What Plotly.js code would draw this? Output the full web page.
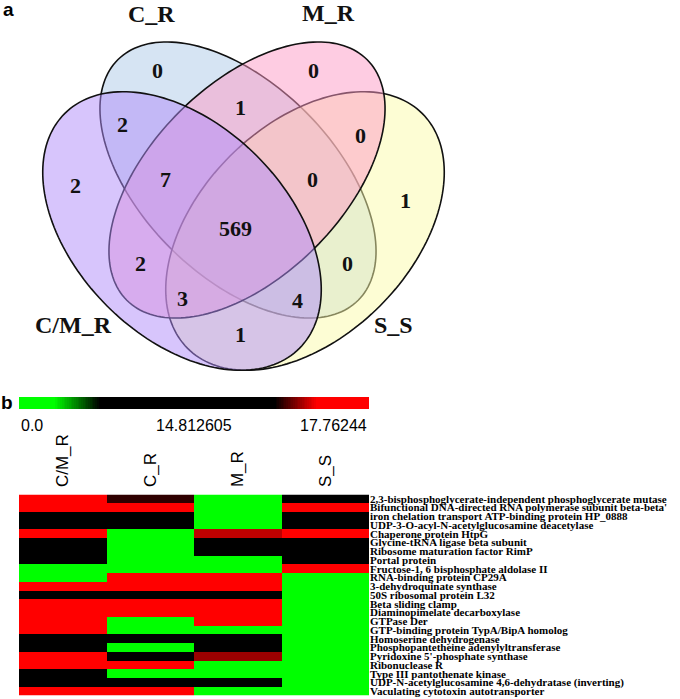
<!DOCTYPE html>
<html>
<head>
<meta charset="utf-8">
<script src="https://cdn.plot.ly/plotly-3.0.1.min.js"></script>
<style>
  html, body { margin: 0; padding: 0; background: #fff; }
  #chart { width: 680px; height: 699px; }
</style>
</head>
<body>
<div id="chart"></div>
<script>
// ---- panel a : Venn counts ----
var vennSets = ['C/M_R', 'C_R', 'M_R', 'S_S'];
var regionKeys = ['C_R', 'M_R', 'C_R&M_R', 'C/M_R&C_R', 'M_R&S_S', 'C/M_R',
                  'C/M_R&C_R&M_R', 'C_R&M_R&S_S', 'S_S', 'all', 'C/M_R&M_R',
                  'C_R&S_S', 'C/M_R&M_R&S_S', 'C/M_R&C_R&S_S', 'C/M_R&S_S'];
var regionCounts = [0, 0, 1, 2, 0, 2, 7, 0, 1, 569, 2, 0, 3, 4, 1];

// ---- panel b : heatmap ----
var heatColumns = ['C/M_R', 'C_R', 'M_R', 'S_S'];
var proteinNames = [
  '2,3-bisphosphoglycerate-independent phosphoglycerate mutase',
  'Bifunctional DNA-directed RNA polymerase subunit beta-beta\'',
  'iron chelation transport ATP-binding protein HP_0888',
  'UDP-3-O-acyl-N-acetylglucosamine deacetylase',
  'Chaperone protein HtpG',
  'Glycine-tRNA ligase beta subunit',
  'Ribosome maturation factor RimP',
  'Portal protein',
  'Fructose-1, 6 bisphosphate aldolase II',
  'RNA-binding protein CP29A',
  '3-dehydroquinate synthase',
  '50S ribosomal protein L32',
  'Beta sliding clamp',
  'Diaminopimelate decarboxylase',
  'GTPase Der',
  'GTP-binding protein TypA/BipA homolog',
  'Homoserine dehydrogenase',
  'Phosphopantetheine adenylyltransferase',
  'Pyridoxine 5\'-phosphate synthase',
  'Ribonuclease R',
  'Type III pantothenate kinase',
  'UDP-N-acetylglucosamine 4,6-dehydratase (inverting)',
  'Vaculating cytotoxin autotransporter'
];
var cmR = [17.7, 17.7, 14.8, 14.8, 17.7, 14.8, 14.8, 14.8, 0, 0, 17.7, 14.8,
           17.7, 17.7, 17.2, 17.7, 14.8, 14.8, 17.7, 17.7, 14.8, 15.0, 17.7];
var cR  = [16.3, 17.7, 14.8, 14.8, 0, 0, 0, 0, 0, 17.7, 17.7, 14.8,
           17.7, 17.7, 0, 0, 14.8, 0, 14.8, 17.7, 0, 14.8, 17.0];
var mR  = [0, 0, 0, 0, 16.7, 14.8, 14.8, 0, 0, 17.7, 17.7, 14.8,
           17.7, 17.7, 17.7, 0, 14.8, 14.8, 16.6, 0, 0, 14.8, 0];
var sS  = [14.8, 17.7, 14.8, 14.8, 17.7, 14.8, 14.8, 14.8, 17.7, 0, 0, 0,
           0, 0, 0, 0, 0, 0, 0, 0, 0, 0, 0];
var barTickText = ['0.0', '14.812605', '17.76244'];
var barTickValues = [0, 14.812605, 17.76244];

// colour bar stops (position along the bar -> colour)
var barStops = [[0, '#00ff00'], [0.1, '#00ff00'], [0.23, '#000000'],
                [0.73, '#000000'], [0.85, '#ff0000'], [1, '#ff0000']];

// the bar is not linear: 14.81 sits in the middle
function posToVal(p) {
  if (p <= 0.5) return p / 0.5 * barTickValues[1];
  return barTickValues[1] + (p - 0.5) / 0.5 * (barTickValues[2] - barTickValues[1]);
}
var zmax = barTickValues[2];
var valueScale = barStops.map(function (s) { return [posToVal(s[0]) / zmax, s[1]]; });

// ---- venn geometry (pixels, y down) ----
var ellipses = {
  'C_R':   {cx: 238, cy: 180, a: 170, b: 96,  rot: 45,  fill: 'rgba(173,201,231,0.5)'},
  'S_S':   {cx: 305, cy: 231, a: 166, b: 106, rot: -45, fill: 'rgba(251,251,169,0.5)'},
  'M_R':   {cx: 247, cy: 180, a: 170, b: 96,  rot: -45, fill: 'rgba(253,153,197,0.5)'},
  'C/M_R': {cx: 182, cy: 231, a: 166, b: 106, rot: 45,  fill: 'rgba(175,139,249,0.5)'}
};
var drawOrder = ['C_R', 'S_S', 'M_R', 'C/M_R'];

var regionPos = {
  'C_R': [157, 70], 'M_R': [313, 70], 'C_R&M_R': [240, 107], 'C/M_R&C_R': [122, 124],
  'M_R&S_S': [360, 135], 'C/M_R': [75, 185], 'C/M_R&C_R&M_R': [165, 179],
  'C_R&M_R&S_S': [312, 179], 'S_S': [405, 200], 'all': [235, 228],
  'C/M_R&M_R': [140, 263], 'C_R&S_S': [347, 263], 'C/M_R&M_R&S_S': [182, 298],
  'C/M_R&C_R&S_S': [297, 300], 'C/M_R&S_S': [240, 334]
};
var setLabelPos = {'C/M_R': [73, 325], 'C_R': [151, 14], 'M_R': [328, 13], 'S_S': [393, 325]};

function ellipsePath(e) {
  var t = e.rot * Math.PI / 180, pts = [];
  for (var i = 0; i < 180; i++) {
    var s = i / 180 * 2 * Math.PI;
    var x = e.cx + e.a * Math.cos(s) * Math.cos(t) - e.b * Math.sin(s) * Math.sin(t);
    var y = e.cy + e.a * Math.cos(s) * Math.sin(t) + e.b * Math.sin(s) * Math.cos(t);
    pts.push(x.toFixed(2) + ',' + y.toFixed(2));
  }
  return 'M' + pts.join('L') + 'Z';
}

var shapes = drawOrder.map(function (k) {
  var e = ellipses[k];
  return {type: 'path', xref: 'x', yref: 'y', path: ellipsePath(e),
          fillcolor: e.fill, line: {color: '#111', width: 1.6}};
});

var serif = 'Liberation Serif, Times New Roman, serif';
var sans = 'Liberation Sans, Arial, sans-serif';
var annotations = [];

regionKeys.forEach(function (k, i) {
  annotations.push({xref: 'x', yref: 'y', x: regionPos[k][0], y: regionPos[k][1],
    text: String(regionCounts[i]), showarrow: false,
    font: {family: serif, size: 22, color: '#111', weight: 'bold'}});
});
vennSets.forEach(function (k) {
  annotations.push({xref: 'x', yref: 'y', x: setLabelPos[k][0], y: setLabelPos[k][1],
    text: k, showarrow: false,
    font: {family: serif, size: 24, color: '#111', weight: 'bold'}});
});
annotations.push({xref: 'x', yref: 'y', x: 8, y: 9, text: 'a', showarrow: false,
  font: {family: sans, size: 19, color: '#000', weight: 'bold'}});
annotations.push({xref: 'x', yref: 'y', x: 7, y: 402, text: 'b', showarrow: false,
  font: {family: sans, size: 19, color: '#000', weight: 'bold'}});

var anchors = ['left', 'center', 'right'];
barTickText.forEach(function (t, i) {
  annotations.push({xref: 'x3 domain', yref: 'y', x: i / 2, y: 425, text: t,
    xanchor: anchors[i], showarrow: false,
    font: {family: sans, size: 16, color: '#000'}});
});

var zRows = proteinNames.map(function (_, i) { return [cmR[i], cR[i], mR[i], sS[i]]; });

var heat = {
  type: 'heatmap', x: heatColumns, y: proteinNames, z: zRows,
  xaxis: 'x2', yaxis: 'y2', colorscale: valueScale, zmin: 0, zmax: zmax,
  showscale: false, hoverinfo: 'skip'
};

var barX = [];
for (var i = 0; i <= 200; i++) barX.push(i / 200);
var bar = {
  type: 'heatmap', x: barX, y: [0], z: [barX], xaxis: 'x3', yaxis: 'y3',
  colorscale: barStops, zmin: 0, zmax: 1, showscale: false, hoverinfo: 'skip'
};

var W = 680, H = 699;
var layout = {
  width: W, height: H,
  margin: {l: 0, r: 0, t: 0, b: 0},
  paper_bgcolor: '#fff', plot_bgcolor: 'rgba(0,0,0,0)',
  showlegend: false,
  xaxis: {domain: [0, 1], range: [0, W], visible: false, fixedrange: true},
  yaxis: {domain: [0, 1], range: [H, 0], visible: false, fixedrange: true},
  xaxis2: {domain: [19 / W, 369 / W], anchor: 'y2', side: 'top', tickangle: -90,
           tickfont: {family: sans, size: 17, color: '#000'},
           ticks: 'outside', ticklen: 3, tickcolor: 'rgba(0,0,0,0)',
           showgrid: false, zeroline: false, showline: false},
  yaxis2: {domain: [1 - 695.5 / H, 1 - 494.5 / H], anchor: 'x2', side: 'right',
           autorange: 'reversed', tickmode: 'array', tickvals: proteinNames, ticktext: proteinNames,
           tickfont: {family: serif, size: 11, color: '#000', weight: 'bold'},
           ticks: '', showgrid: false, zeroline: false, showline: false},
  xaxis3: {domain: [19 / W, 369 / W], anchor: 'y3', range: [0, 1], visible: false},
  yaxis3: {domain: [1 - 409 / H, 1 - 397 / H], anchor: 'x3', visible: false},
  shapes: shapes,
  annotations: annotations
};

Plotly.newPlot('chart', [heat, bar], layout, {displayModeBar: false, staticPlot: true});
</script>
</body>
</html>
